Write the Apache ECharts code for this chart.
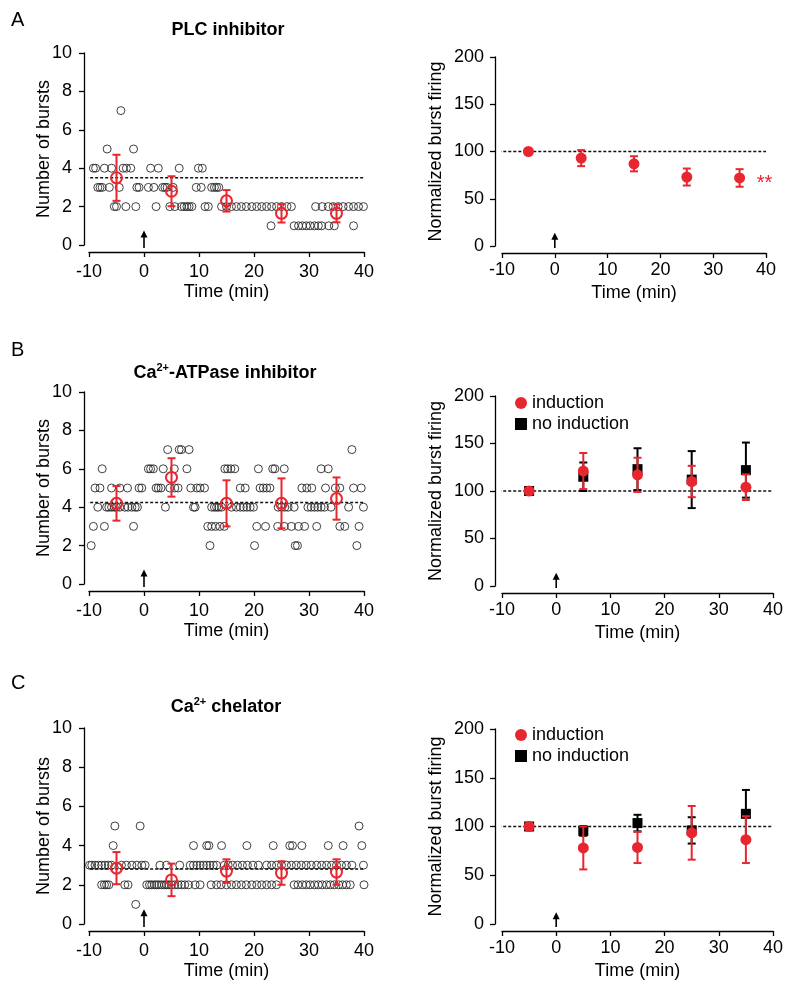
<!DOCTYPE html>
<html>
<head>
<meta charset="utf-8">
<script src="https://cdn.jsdelivr.net/npm/echarts@6/dist/echarts.min.js"></script>
<style>html,body{margin:0;padding:0;background:#fff}#chart{width:800px;height:1001px}</style>
</head>
<body>
<div id="chart"></div>
<script>
// raw counts per cell, [time (min), number of bursts]
var plcPoints = [
  [-4.2,7],
  [-6.7,5],[-1.9,5],
  [-9.2,4],[-8.8,4],[-7.2,4],[-5.9,4],[-3.8,4],[-3.2,4],[-2.4,4],[1.2,4],[2.6,4],[6.4,4],[9.9,4],[10.6,4],
  [-8.4,3],[-8.0,3],[-7.6,3],[-6.3,3],[-4.5,3],[-1.3,3],[-0.9,3],[0.8,3],[1.8,3],[3.4,3],[3.8,3],[4.2,3],[5.3,3],
  [9.5,3],[10.4,3],[12.3,3],[12.8,3],[13.2,3],[13.6,3],
  [-5.4,2],[-5.0,2],[-3.3,2],[-1.5,2],[2.2,2],[4.7,2],[5.6,2],[6.8,2],[7.3,2],[7.8,2],[8.2,2],[8.7,2],[11.1,2],[11.7,2],
  [14.1,2],[15.0,2],[15.9,2],[16.8,2],[17.7,2],[18.6,2],[19.6,2],[20.5,2],[21.4,2],[22.3,2],[23.2,2],[24.1,2],[25.0,2],
  [26.0,2],[26.8,2],[31.2,2],[32.4,2],[33.5,2],[34.4,2],[35.3,2],[36.2,2],[37.2,2],[38.1,2],[39.0,2],[39.9,2],
  [23.1,1],[27.3,1],[28.1,1],[28.8,1],[29.5,1],[30.2,1],[31.0,1],[31.7,1],[32.3,1],[33.6,1],[34.6,1],[38.1,1]
];
var atpPoints = [
  [4.3,7],[6.4,7],[6.8,7],[8.2,7],[37.8,7],
  [-7.6,6],[0.8,6],[1.2,6],[1.7,6],[3.5,6],[5.5,6],[7.8,6],[14.7,6],[15.2,6],[15.8,6],[16.5,6],[20.8,6],[23.4,6],
  [23.8,6],[25.5,6],[32.2,6],[33.5,6],
  [-8.9,5],[-8.0,5],[-5.9,5],[-4.4,5],[-3.0,5],[-0.9,5],[-0.4,5],[2.2,5],[2.6,5],[3.1,5],[4.7,5],[5.6,5],[6.2,5],
  [8.5,5],[9.6,5],[10.2,5],[11.0,5],[17.5,5],[18.4,5],[21.1,5],[21.7,5],[22.3,5],[22.9,5],[28.7,5],[29.6,5],[30.5,5],
  [33.0,5],[34.8,5],[35.6,5],[38.1,5],[39.5,5],
  [-8.4,4],[-6.8,4],[-6.4,4],[-5.9,4],[-5.4,4],[-5.0,4],[-4.4,4],[-3.5,4],[-2.9,4],[-2.2,4],[-1.6,4],[-1.2,4],[3.9,4],
  [9.0,4],[9.3,4],[12.3,4],[12.8,4],[13.2,4],[13.6,4],[14.1,4],[15.9,4],[16.8,4],[17.5,4],[18.1,4],[18.7,4],[19.3,4],
  [19.9,4],[24.4,4],[25.0,4],[25.6,4],[26.2,4],[27.3,4],[29.8,4],[30.4,4],[31.0,4],[31.6,4],[32.2,4],[32.8,4],[34.0,4],
  [37.2,4],[39.9,4],
  [-9.2,3],[-7.2,3],[-1.9,3],[11.6,3],[12.3,3],[13.0,3],[13.8,3],[14.6,3],[20.5,3],[22.1,3],[24.3,3],[25.5,3],[26.8,3],
  [28.1,3],[29.2,3],[31.4,3],[35.6,3],[36.5,3],[39.1,3],
  [-9.6,2],[12.0,2],[20.1,2],[27.5,2],[27.9,2],[38.7,2]
];
var chelPoints = [
  [-5.3,5],[-0.7,5],[39.1,5],
  [-5.6,4],[9.0,4],[11.4,4],[11.8,4],[14.1,4],[18.7,4],[23.5,4],[26.5,4],[27.0,4],[28.7,4],[33.5,4],[36.2,4],[39.6,4],
  [-9.9,3],[-9.5,3],[-8.9,3],[-8.3,3],[-7.7,3],[-7.1,3],[-6.5,3],[-5.9,3],[-4.1,3],[-3.2,3],[-2.2,3],[-1.3,3],[-0.4,3],
  [0.2,3],[2.9,3],[4.1,3],[6.5,3],[8.4,3],[9.0,3],[9.6,3],[10.2,3],[10.8,3],[11.4,3],[12.0,3],[12.6,3],[13.2,3],
  [14.6,3],[15.3,3],[16.1,3],[17.0,3],[17.9,3],[18.8,3],[19.8,3],[20.8,3],[22.3,3],[23.2,3],[24.1,3],[25.0,3],[25.9,3],
  [26.8,3],[27.7,3],[28.6,3],[29.5,3],[30.4,3],[31.4,3],[32.3,3],[33.2,3],[34.1,3],[35.0,3],[35.9,3],[36.8,3],[37.8,3],
  [39.9,3],
  [-7.7,2],[-7.2,2],[-6.8,2],[-6.4,2],[-3.5,2],[-2.9,2],[0.5,2],[1.0,2],[1.4,2],[1.9,2],[2.3,2],[2.7,2],[3.2,2],[3.7,2],
  [4.1,2],[4.5,2],[5.0,2],[5.6,2],[6.2,2],[6.8,2],[7.4,2],[8.1,2],[9.3,2],[10.2,2],[12.2,2],[13.2,2],[14.0,2],[15.0,2],
  [15.9,2],[16.8,2],[17.7,2],[18.6,2],[19.6,2],[20.5,2],[21.4,2],[22.3,2],[23.2,2],[24.1,2],[27.3,2],[28.0,2],[28.8,2],
  [29.5,2],[30.2,2],[31.0,2],[31.7,2],[32.4,2],[33.2,2],[33.9,2],[34.6,2],[35.4,2],[36.1,2],[36.8,2],[37.5,2],[40.0,2],
  [-1.5,1]
];

// binned means (10 min bins)
var binTimes = [-5, 5, 15, 25, 35];
var plcMean = [3.5, 2.8, 2.3, 1.65, 1.65];
var plcSem = [1.2, 0.78, 0.56, 0.48, 0.47];
var atpMean = [4.2, 5.55, 4.2, 4.2, 4.45];
var atpSem = [0.9, 1.0, 1.2, 1.3, 1.1];
var chelMean = [2.85, 2.25, 2.7, 2.6, 2.65];
var chelSem = [0.82, 0.83, 0.6, 0.6, 0.65];
var baselines = [3.5, 4.25, 2.8];

// normalized burst firing (%)
var plcNorm = [100, 93, 87, 73, 72];
var plcNormErr = [0, 8.5, 8, 9, 9.3];
var atpInd = [100, 121, 117, 110, 104];
var atpIndErr = [0, 19, 18, 16.5, 13.5];
var atpNo = [100, 115, 123, 112, 122];
var atpNoErr = [0, 15, 22, 30, 29];
var chelInd = [100, 78, 78.5, 93.5, 86.5];
var chelIndErr = [0, 22, 16, 27.5, 24];
var chelNo = [100, 95.5, 103.5, 96, 113];
var chelNoErr = [0, 5, 8.5, 13.5, 24.5];

var xTicks = [-10, 0, 10, 20, 30, 40];

var RED = '#e8262f';
var FONT = '"Liberation Sans", Arial, sans-serif';

var chart = echarts.init(document.getElementById('chart'));

var grids = [
  {left: 89, top: 53, width: 275, height: 192},
  {left: 502, top: 57, width: 264, height: 189},
  {left: 89, top: 392, width: 275, height: 192},
  {left: 502, top: 396, width: 271, height: 190},
  {left: 89, top: 728, width: 275, height: 196},
  {left: 502, top: 729, width: 271, height: 195}
];

var xAxes = [], yAxes = [];
grids.forEach(function (g, i) {
  var right = i % 2 === 1;
  xAxes.push({
    gridIndex: i, type: 'value', min: xTicks[0], max: xTicks[xTicks.length - 1], interval: 10,
    offset: 7,
    name: 'Time (min)', nameLocation: 'middle', nameGap: 31,
    nameTextStyle: {fontSize: 18, color: '#000', fontFamily: FONT},
    axisLine: {onZero: false, lineStyle: {color: '#000', width: 1.3}},
    axisTick: {length: 5, lineStyle: {color: '#000', width: 1.3}},
    axisLabel: {fontSize: 18, color: '#000', fontFamily: FONT, margin: right ? 8 : 11},
    splitLine: {show: false}
  });
  yAxes.push({
    gridIndex: i, type: 'value', min: 0, max: right ? 200 : 10, interval: right ? 50 : 2,
    offset: right ? 7 : 5,
    name: right ? 'Normalized burst firing' : 'Number of bursts',
    nameLocation: 'middle', nameGap: right ? 50 : 31, nameMoveOverlap: false,
    nameTextStyle: {fontSize: 18, color: '#000', fontFamily: FONT},
    axisLine: {show: true, onZero: false, lineStyle: {color: '#000', width: 1.3}},
    axisTick: {show: true, length: 5, lineStyle: {color: '#000', width: 1.3}},
    axisLabel: {fontSize: 18, color: '#000', fontFamily: FONT, margin: right ? 11 : 12},
    splitLine: {show: false}
  });
});

function errBars(color, cap) {
  return function (params, api) {
    var x = api.value(0), y = api.value(1), e = api.value(2);
    if (!e) return null;
    var t = api.coord([x, y + e]), b = api.coord([x, y - e]);
    var st = {stroke: color, lineWidth: 2};
    return {type: 'group', children: [
      {type: 'line', shape: {x1: t[0], y1: t[1], x2: b[0], y2: b[1]}, style: st},
      {type: 'line', shape: {x1: t[0] - cap, y1: t[1], x2: t[0] + cap, y2: t[1]}, style: st},
      {type: 'line', shape: {x1: b[0] - cap, y1: b[1], x2: b[0] + cap, y2: b[1]}, style: st}
    ]};
  };
}

// small upward arrow marking the induction time
function arrowItem(params, api) {
  var lo = api.coord([api.value(0), api.value(1)]);
  var hi = api.coord([api.value(0), api.value(2)]);
  return {type: 'group', children: [
    {type: 'line', shape: {x1: lo[0], y1: lo[1], x2: hi[0], y2: hi[1] + 5}, style: {stroke: '#000', lineWidth: 1.6}},
    {type: 'polygon', shape: {points: [[hi[0], hi[1]], [hi[0] - 3.5, hi[1] + 7], [hi[0] + 3.5, hi[1] + 7]]},
      style: {fill: '#000'}}
  ]};
}

function zip3(a, b, c) {
  return a.map(function (v, i) { return [v, b[i], c[i]]; });
}

var series = [];

function baseline(gi, level, lo, hi) {
  series.push({
    type: 'line', name: 'base' + gi, xAxisIndex: gi, yAxisIndex: gi,
    data: [[-10.7, level], [40, level]], symbol: 'none', clip: false, silent: true, z: 3,
    lineStyle: {color: '#111', width: 1.5, type: [3, 2]}
  });
  series.push({
    type: 'custom', name: 'arrow' + gi, xAxisIndex: gi, yAxisIndex: gi,
    data: [[0, lo, hi]], encode: {x: 0, y: 1}, silent: true, z: 3,
    renderItem: arrowItem
  });
}

function leftPanel(gi, pts, mean, sem, base) {
  series.push({
    type: 'scatter', name: 'cells' + gi, xAxisIndex: gi, yAxisIndex: gi, data: pts,
    symbol: 'circle', symbolSize: 8, silent: true, z: 2,
    itemStyle: {color: 'rgba(0,0,0,0)', borderColor: '#2a2a2a', borderWidth: 0.9, opacity: 1}
  });
  baseline(gi, base, -0.15, 0.75);
  series.push({
    type: 'custom', name: 'sem' + gi, xAxisIndex: gi, yAxisIndex: gi,
    data: zip3(binTimes, mean, sem), encode: {x: 0, y: 1}, z: 4, silent: true,
    renderItem: errBars(RED, 4)
  });
  series.push({
    type: 'scatter', name: 'mean' + gi, xAxisIndex: gi, yAxisIndex: gi,
    data: binTimes.map(function (t, i) { return [t, mean[i]]; }),
    symbol: 'circle', symbolSize: 11, z: 5, silent: true,
    itemStyle: {color: 'rgba(0,0,0,0)', borderColor: RED, borderWidth: 2, opacity: 1}
  });
}

function rightGroup(gi, name, vals, errs, color, symbol, size, z) {
  series.push({
    type: 'custom', name: name + ' err' + gi, xAxisIndex: gi, yAxisIndex: gi,
    data: zip3(binTimes, vals, errs), encode: {x: 0, y: 1}, z: z, silent: true,
    renderItem: errBars(color, 4)
  });
  var s = {
    type: 'scatter', name: name, xAxisIndex: gi, yAxisIndex: gi,
    data: binTimes.map(function (t, i) { return [t, vals[i]]; }),
    symbol: symbol, symbolSize: size, z: z + 1, silent: true,
    itemStyle: {color: color, opacity: 1}
  };
  series.push(s);
  return s;
}

leftPanel(0, plcPoints, plcMean, plcSem, baselines[0]);
leftPanel(2, atpPoints, atpMean, atpSem, baselines[1]);
leftPanel(4, chelPoints, chelMean, chelSem, baselines[2]);

baseline(1, 100, -2, 14);
var plcS = rightGroup(1, 'PLC', plcNorm, plcNormErr, RED, 'circle', 11, 4);
plcS.markPoint = {
  silent: true, symbol: 'circle', symbolSize: 1, itemStyle: {color: 'rgba(0,0,0,0)'},
  label: {show: true, position: 'inside', formatter: '**', color: RED, fontSize: 20, fontFamily: FONT},
  data: [{coord: [39.7, 66]}]
};

baseline(3, 100, -2, 14);
rightGroup(3, 'no induction', atpNo, atpNoErr, '#000', 'rect', 10, 4);
rightGroup(3, 'induction', atpInd, atpIndErr, RED, 'circle', 11, 6);

baseline(5, 100, -3, 12);
rightGroup(5, 'no induction', chelNo, chelNoErr, '#000', 'rect', 10, 4);
rightGroup(5, 'induction', chelInd, chelIndErr, RED, 'circle', 11, 6);

function legendAt(top) {
  return {
    left: 510, top: top, orient: 'vertical', itemGap: 3, itemWidth: 12, itemHeight: 12,
    selectedMode: false,
    textStyle: {fontSize: 18, color: '#000', fontFamily: FONT},
    data: [{name: 'induction', icon: 'circle'}, {name: 'no induction', icon: 'rect'}]
  };
}

function label(x, y, text, size) {
  return {type: 'text', left: x, top: y, style: {text: text, fontSize: size, fill: '#000', fontFamily: FONT}};
}

function title(cx, cy, parts) {
  return {
    type: 'text', x: cx, y: cy,
    style: {
      text: parts, textAlign: 'center', textVerticalAlign: 'middle', fill: '#000',
      rich: {
        b: {fontSize: 18, fontWeight: 'bold', fontFamily: FONT, lineHeight: 22},
        s: {fontSize: 11, fontWeight: 'bold', fontFamily: FONT, lineHeight: 22, verticalAlign: 'top'}
      }
    }
  };
}

chart.setOption({
  animation: false,
  backgroundColor: '#fff',
  grid: grids,
  xAxis: xAxes,
  yAxis: yAxes,
  legend: [legendAt(389), legendAt(721)],
  graphic: [
    label(11, 10, 'A', 20),
    label(11, 340, 'B', 20),
    label(11, 673, 'C', 20),
    title(228, 30, '{b|PLC inhibitor}'),
    title(225, 373, '{b|Ca}{s|2+}{b|-ATPase inhibitor}'),
    title(226, 707, '{b|Ca}{s|2+}{b| chelator}')
  ],
  series: series
});
</script>
</body>
</html>
